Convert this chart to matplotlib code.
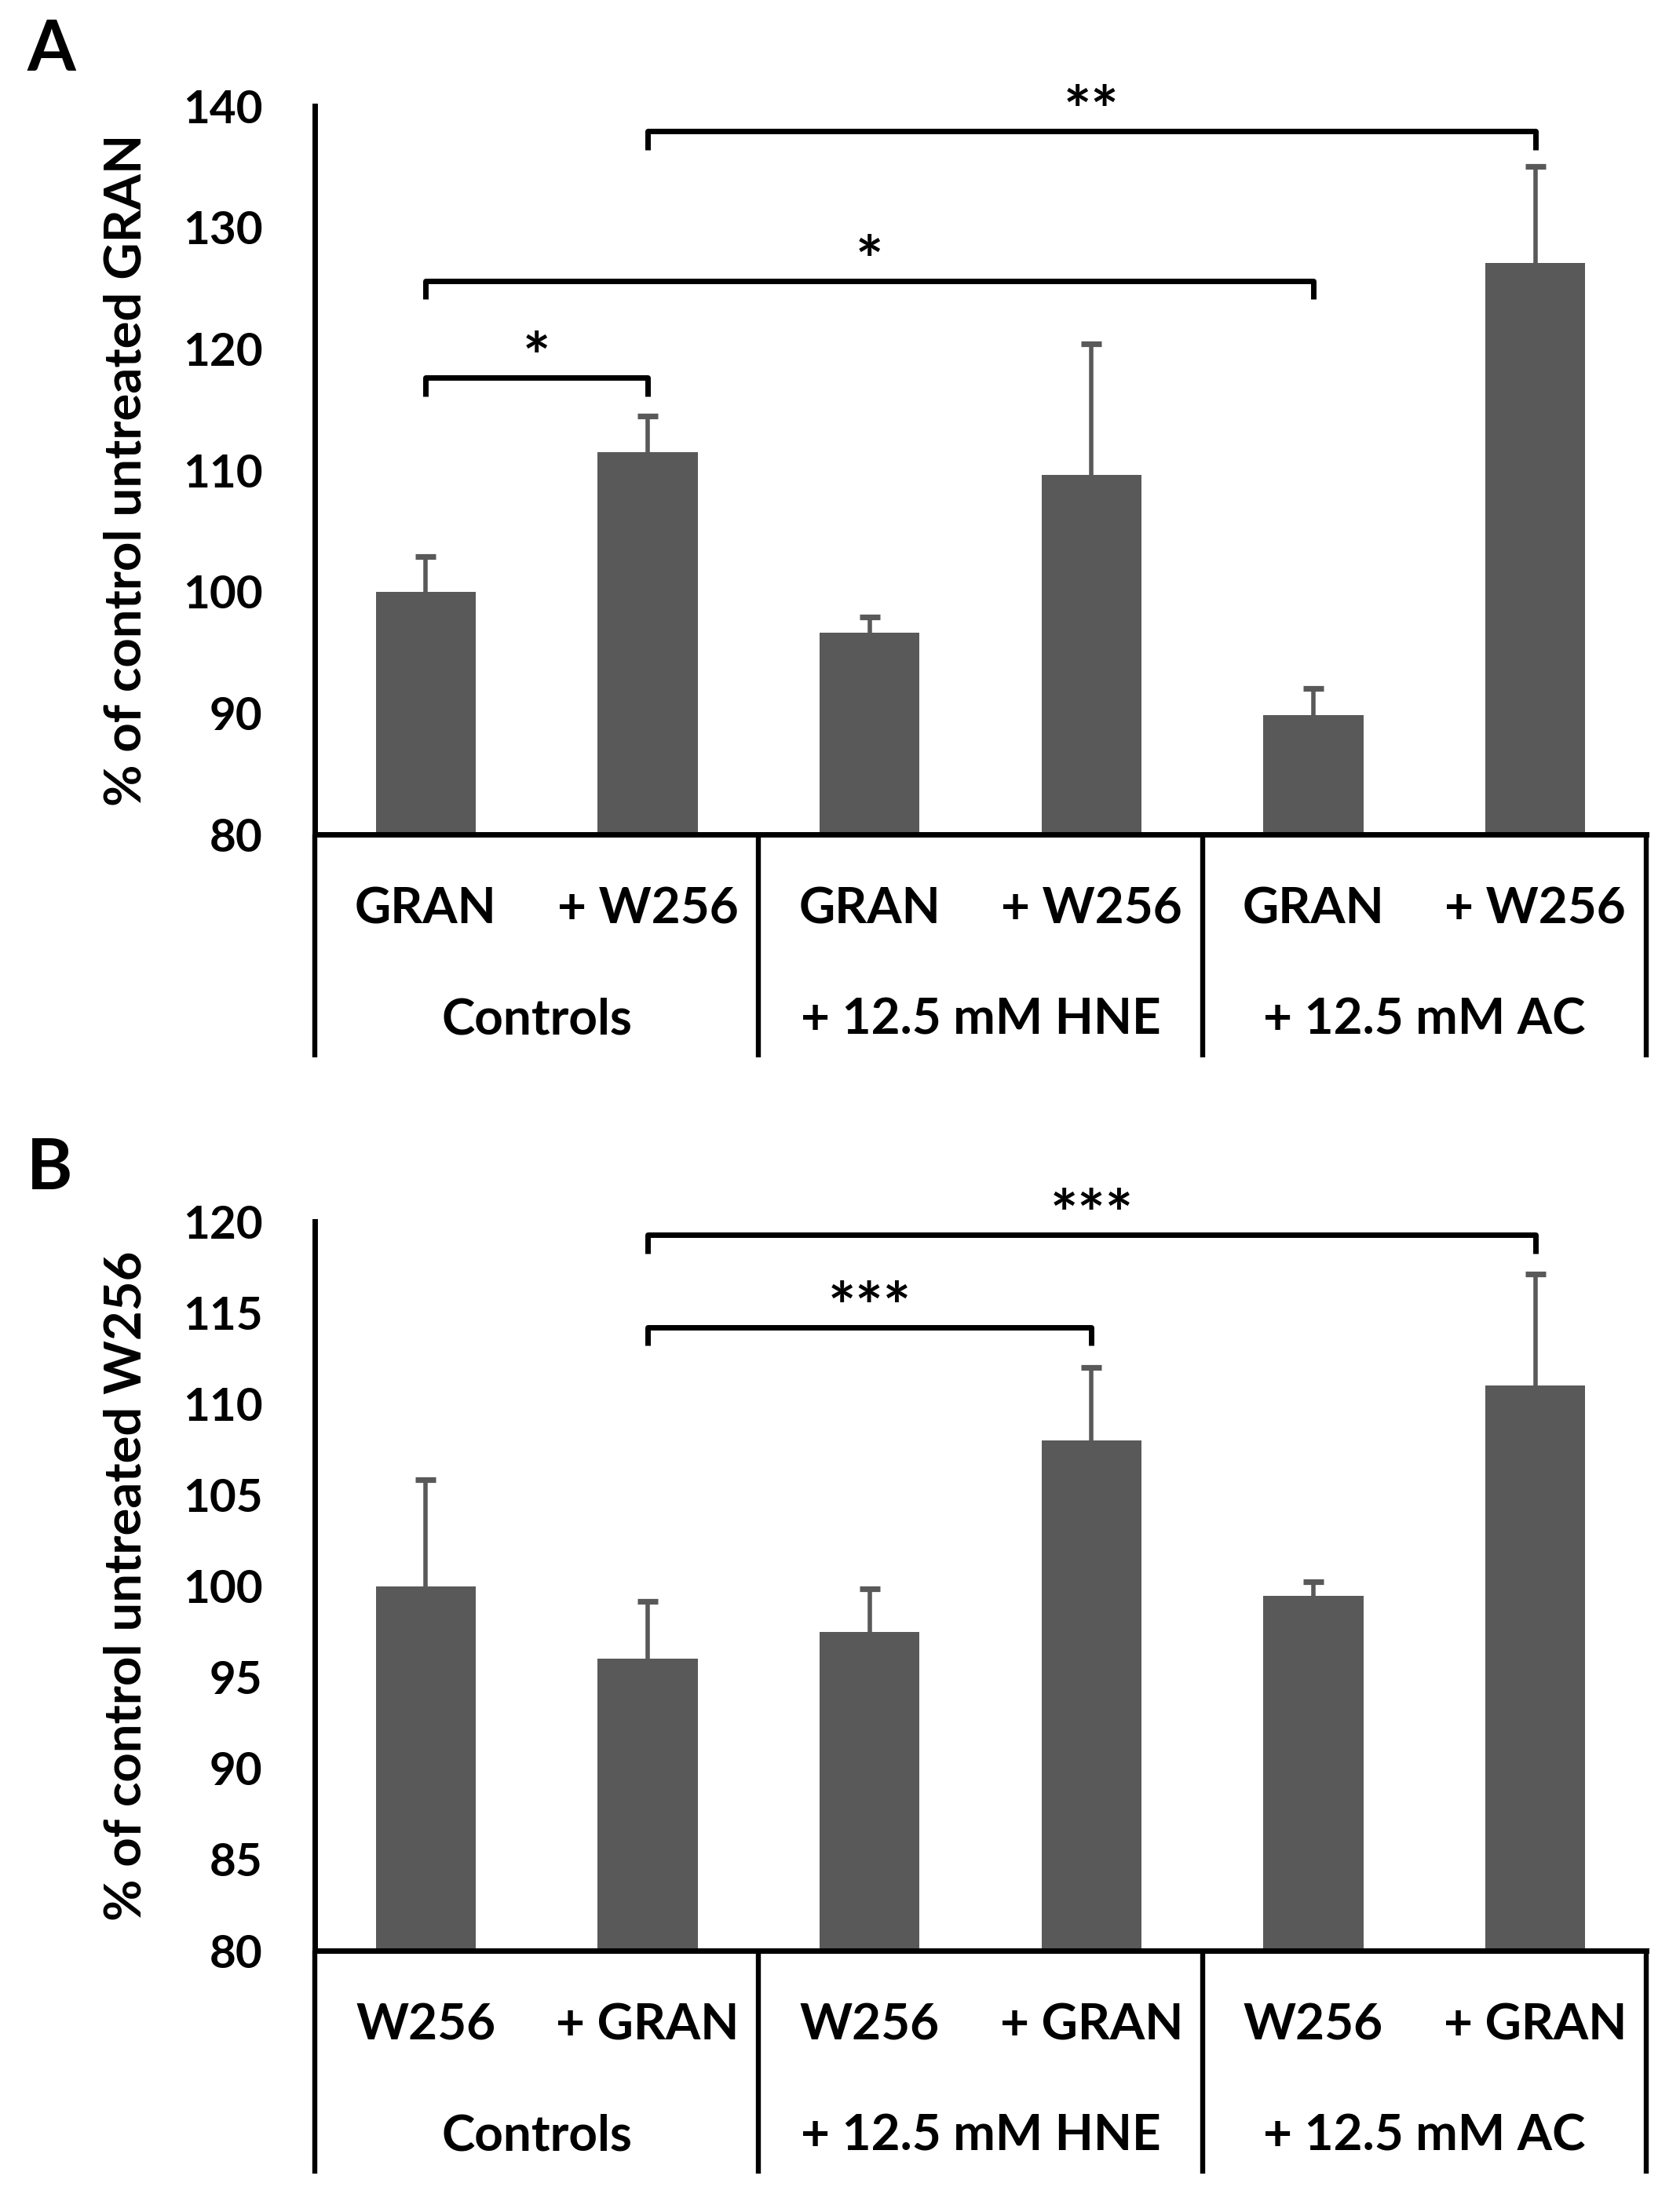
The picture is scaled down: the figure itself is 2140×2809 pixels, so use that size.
import matplotlib
matplotlib.use("Agg")
import matplotlib.pyplot as plt

plt.rcParams['font.family'] = ['Lato', 'DejaVu Sans']
plt.rcParams['font.weight'] = 'bold'

# --- data -------------------------------------------------------------
groups = ["Controls", "+ 12.5 mM HNE", "+ 12.5 mM AC"]

a_labels = ["GRAN", "+ W256", "GRAN", "+ W256", "GRAN", "+ W256"]
a_means = [100.0, 111.5, 96.6, 109.6, 89.8, 127.1]
a_errs = [2.9, 2.95, 1.3, 10.8, 2.25, 7.9]
a_ticks = [80, 90, 100, 110, 120, 130, 140]
# (from bar, to bar, height, stars)
a_brackets = [(1, 5, 137.9, "**"), (0, 4, 125.6, "*"), (0, 1, 117.6, "*")]

b_labels = ["W256", "+ GRAN", "W256", "+ GRAN", "W256", "+ GRAN"]
b_means = [100.0, 96.0, 97.5, 108.0, 99.45, 111.0]
b_errs = [5.85, 3.15, 2.35, 4.0, 0.8, 6.1]
b_ticks = [80, 85, 90, 95, 100, 105, 110, 115, 120]
b_brackets = [(1, 5, 119.25, "***"), (1, 3, 114.2, "***")]

BAR = '#595959'


def draw_panel(ax, means, errs, labels, ticks, ylabel, brackets, leg):
    x = list(range(len(means)))
    ax.bar(x, means, width=0.45, color=BAR, zorder=2)
    # plus-only error bars (no cap at the bar top)
    tops = [m + e for m, e in zip(means, errs)]
    ax.vlines(x, means, tops, color=BAR, lw=2.0, zorder=3)
    ax.plot(x, tops, ls='none', marker='_', markersize=9.4, mew=2.6,
            color=BAR, zorder=3)

    ax.set_xlim(-0.5, 5.5)
    ax.set_ylim(ticks[0], ticks[-1])
    ax.set_yticks(ticks)
    ax.set_xticks([])
    ax.tick_params(axis='y', length=0, pad=24, labelsize=21)
    for s in ['top', 'right']:
        ax.spines[s].set_visible(False)
    for s in ['left', 'bottom']:
        ax.spines[s].set_linewidth(2.5)
        ax.spines[s].set_color('black')
    ax.set_ylabel(ylabel, fontsize=23.5, fontweight='bold')
    ax.yaxis.set_label_coords(-0.124, 0.5)

    # category table under the axis
    trans = ax.get_xaxis_transform()
    for i, lab in enumerate(labels):
        ax.text(i, -0.1024, lab, transform=trans, ha='center', va='center',
                fontsize=23, fontweight='bold')
    for g, name in enumerate(groups):
        ax.text(2 * g + 0.5, -0.2543, name, transform=trans, ha='center',
                va='center', fontsize=23, fontweight='bold')
    for xv in [-0.5, 1.5, 3.5, 5.5]:
        ax.plot([xv, xv], [0, -0.306], transform=trans, color='black',
                lw=2.3, clip_on=False, solid_capstyle='butt')

    # significance brackets
    for i, j, y, stars in brackets:
        ax.plot([i, i, j, j], [y - leg, y, y, y - leg], color='black', lw=2.5,
                clip_on=False, solid_joinstyle='round', solid_capstyle='butt',
                zorder=4)
        ax.annotate(stars, xy=((i + j) / 2, y), xytext=(0, -1),
                    textcoords='offset points', ha='center', va='baseline',
                    fontsize=30, fontweight='bold', annotation_clip=False)


fig = plt.figure(figsize=(10.7, 14.045), dpi=200)
ax_a = fig.add_axes([0.1874, 0.62157, 0.7925, 0.33037])
ax_b = fig.add_axes([0.1874, 0.11534, 0.7925, 0.3307])

draw_panel(ax_a, a_means, a_errs, a_labels, a_ticks,
           "% of control untreated GRAN", a_brackets, 1.5)
draw_panel(ax_b, b_means, b_errs, b_labels, b_ticks,
           "% of control untreated W256", b_brackets, 1.0)

fig.text(65 / 2140, 1 - 64 / 2809, "A", fontsize=32, fontweight='bold',
         ha='center', va='center')
fig.text(63 / 2140, 1 - 1489 / 2809, "B", fontsize=32, fontweight='bold',
         ha='center', va='center')

fig.savefig('out.png', dpi=200)
